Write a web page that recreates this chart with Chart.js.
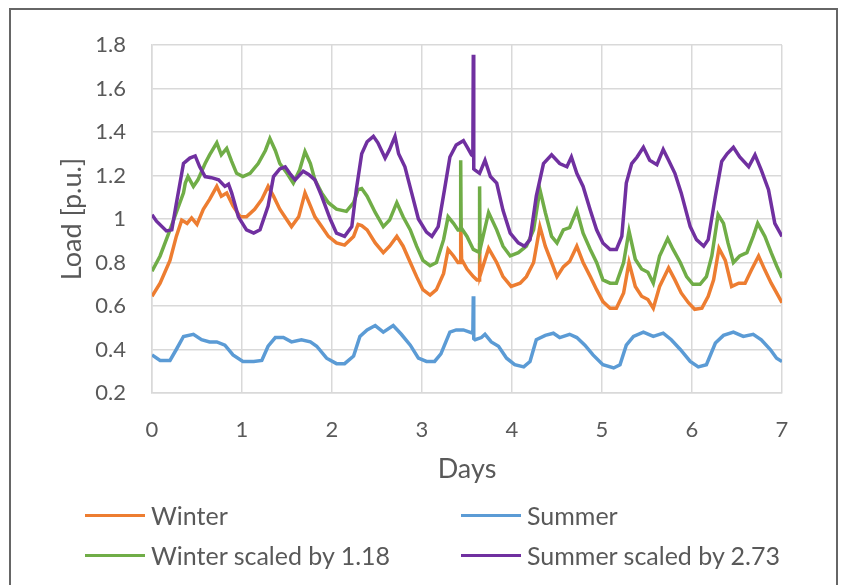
<!DOCTYPE html>
<html>
<head>
<meta charset="utf-8">
<script src="https://cdn.jsdelivr.net/npm/chart.js@4/dist/chart.umd.min.js"></script>
<style>
  html, body { margin: 0; padding: 0; background: #fff; overflow: hidden; }
  #wrap { position: relative; width: 845px; height: 585px; }
  #frame { position: absolute; left: 9px; top: 8px; width: 829px; height: 620px;
           border: 2px solid #666; border-bottom: none; box-sizing: border-box; pointer-events: none; }
  canvas { position: absolute; left: 0; top: 0; }
  .leg { position: absolute; display: flex; align-items: center; height: 30px;
         font-family: Lato, "Open Sans", sans-serif; font-size: 25px; color: #595959; white-space: nowrap; }
  .leg span.ln { display: inline-block; width: 60px; height: 3px; margin-right: 6px; }
</style>
</head>
<body>
<div id="wrap">
  <canvas id="c" width="845" height="585"></canvas>
  <div id="frame"></div>
  <div id="legend"></div>
</div>
<script>
// ---- data ----
const seriesLabels = ['Winter', 'Summer', 'Winter scaled by 1.18', 'Summer scaled by 2.73'];
const seriesColors = ['#ED7D31', '#5B9BD5', '#70AD47', '#7030A0'];

const winterX = [0,0.09,0.2,0.27,0.33,0.39,0.44,0.5,0.57,0.64,0.72,0.77,0.83,0.9,0.98,1.05,1.14,1.22,1.29,1.35,1.42,1.5,1.55,1.63,1.7,1.76,1.81,1.885,1.96,2.05,2.14,2.24,2.29,2.33,2.39,2.48,2.57,2.64,2.72,2.79,2.87,2.94,3.01,3.09,3.16,3.24,3.29,3.35,3.4,3.425,3.43,3.44,3.5,3.57,3.61,3.635,3.64,3.645,3.74,3.83,3.9,3.99,4.09,4.16,4.24,4.31,4.37,4.44,4.5,4.57,4.64,4.72,4.79,4.87,4.94,5.01,5.09,5.16,5.24,5.3,5.37,5.44,5.51,5.57,5.64,5.74,5.81,5.88,5.96,6.03,6.11,6.18,6.24,6.3,6.37,6.44,6.52,6.59,6.66,6.74,6.81,6.88,6.94,7];
const winterY = [0.645,0.705,0.81,0.92,0.995,0.98,1.005,0.975,1.045,1.09,1.15,1.105,1.12,1.06,1.01,1.01,1.045,1.09,1.15,1.105,1.045,0.995,0.965,1.01,1.12,1.06,1.01,0.965,0.92,0.89,0.88,0.92,0.975,0.97,0.95,0.89,0.845,0.875,0.92,0.875,0.8,0.735,0.675,0.65,0.675,0.75,0.86,0.83,0.8,0.8,1.0,0.815,0.77,0.735,0.72,0.72,0.89,0.74,0.865,0.8,0.735,0.69,0.705,0.735,0.8,0.965,0.875,0.8,0.735,0.78,0.805,0.875,0.8,0.735,0.675,0.62,0.59,0.59,0.66,0.8,0.69,0.645,0.63,0.59,0.69,0.775,0.72,0.66,0.615,0.585,0.59,0.645,0.72,0.865,0.81,0.69,0.705,0.705,0.765,0.83,0.765,0.705,0.66,0.615];

const summerX = [0,0.09,0.2,0.27,0.35,0.46,0.55,0.64,0.72,0.81,0.9,1.01,1.13,1.22,1.29,1.37,1.46,1.55,1.66,1.76,1.83,1.94,2.05,2.14,2.24,2.31,2.39,2.48,2.57,2.68,2.77,2.87,2.96,3.05,3.14,3.21,3.31,3.38,3.46,3.53,3.565,3.57,3.575,3.59,3.66,3.7,3.77,3.85,3.94,4.03,4.13,4.2,4.27,4.37,4.46,4.53,4.64,4.72,4.81,4.9,5.01,5.13,5.2,5.27,5.35,5.46,5.57,5.68,5.77,5.87,5.98,6.07,6.16,6.26,6.35,6.46,6.57,6.68,6.77,6.87,6.94,7];
const summerY = [0.375,0.35,0.35,0.4,0.46,0.47,0.445,0.435,0.435,0.42,0.375,0.345,0.345,0.35,0.415,0.455,0.455,0.435,0.445,0.435,0.415,0.36,0.335,0.335,0.37,0.46,0.49,0.51,0.48,0.51,0.47,0.42,0.36,0.345,0.345,0.38,0.48,0.49,0.49,0.48,0.475,0.645,0.45,0.445,0.455,0.47,0.435,0.415,0.36,0.33,0.32,0.345,0.445,0.465,0.475,0.455,0.47,0.455,0.42,0.375,0.33,0.315,0.33,0.42,0.46,0.48,0.46,0.475,0.445,0.4,0.345,0.32,0.33,0.43,0.465,0.48,0.46,0.47,0.445,0.4,0.36,0.345];

const winterScaledX = [0,0.09,0.2,0.27,0.35,0.37,0.4,0.46,0.51,0.59,0.64,0.72,0.77,0.83,0.885,0.94,1.01,1.09,1.18,1.26,1.31,1.37,1.42,1.5,1.57,1.64,1.7,1.76,1.81,1.885,1.96,2.05,2.16,2.24,2.29,2.33,2.39,2.48,2.57,2.64,2.72,2.79,2.87,2.94,3.01,3.09,3.16,3.24,3.29,3.35,3.4,3.425,3.43,3.435,3.5,3.57,3.62,3.635,3.64,3.645,3.74,3.83,3.9,3.98,4.07,4.16,4.24,4.31,4.37,4.44,4.5,4.57,4.64,4.72,4.79,4.87,4.94,5.01,5.09,5.16,5.24,5.3,5.37,5.44,5.51,5.57,5.64,5.73,5.79,5.87,5.94,6.01,6.09,6.16,6.22,6.29,6.35,6.4,6.46,6.53,6.61,6.68,6.73,6.81,6.88,6.94,7];
const winterScaledY = [0.76,0.83,0.95,1.03,1.12,1.165,1.195,1.15,1.18,1.255,1.295,1.35,1.295,1.325,1.265,1.21,1.195,1.21,1.255,1.315,1.37,1.315,1.255,1.21,1.165,1.225,1.31,1.255,1.18,1.12,1.075,1.045,1.035,1.075,1.135,1.14,1.105,1.03,0.965,0.995,1.075,1.01,0.95,0.875,0.81,0.785,0.8,0.905,1.01,0.98,0.95,0.95,1.27,0.96,0.92,0.86,0.85,0.85,1.15,0.86,1.03,0.95,0.875,0.83,0.845,0.875,0.95,1.135,1.03,0.92,0.89,0.95,0.96,1.04,0.935,0.86,0.8,0.72,0.705,0.705,0.8,0.945,0.815,0.77,0.755,0.705,0.83,0.91,0.86,0.8,0.735,0.7,0.7,0.735,0.83,1.02,0.98,0.89,0.8,0.83,0.845,0.92,0.98,0.92,0.845,0.785,0.73];

const summerScaledX = [0,0.05,0.16,0.22,0.27,0.35,0.42,0.48,0.53,0.59,0.66,0.74,0.81,0.85,0.885,0.96,1.05,1.13,1.2,1.29,1.35,1.42,1.48,1.53,1.59,1.68,1.74,1.81,1.885,1.98,2.05,2.14,2.22,2.27,2.33,2.39,2.46,2.51,2.59,2.64,2.7,2.74,2.81,2.885,2.96,3.05,3.11,3.18,3.25,3.31,3.38,3.46,3.51,3.55,3.565,3.57,3.575,3.59,3.64,3.7,3.76,3.83,3.9,3.98,4.07,4.14,4.2,4.27,4.35,4.44,4.53,4.61,4.66,4.72,4.79,4.87,4.94,5.01,5.09,5.16,5.22,5.27,5.33,5.39,5.46,5.53,5.61,5.68,5.74,5.81,5.88,5.98,6.05,6.13,6.18,6.26,6.33,6.39,6.46,6.53,6.63,6.7,6.77,6.85,6.92,7];
const summerScaledY = [1.02,0.99,0.945,0.95,1.07,1.255,1.28,1.29,1.24,1.195,1.19,1.18,1.15,1.16,1.12,1.01,0.95,0.935,0.95,1.06,1.195,1.23,1.24,1.21,1.18,1.22,1.205,1.18,1.105,1.0,0.935,0.92,0.965,1.135,1.3,1.355,1.38,1.35,1.28,1.32,1.38,1.3,1.24,1.12,1.0,0.94,0.92,0.965,1.135,1.285,1.34,1.36,1.325,1.295,1.29,1.755,1.23,1.225,1.21,1.27,1.195,1.165,1.04,0.935,0.89,0.875,0.905,1.105,1.255,1.295,1.255,1.24,1.285,1.21,1.15,1.04,0.95,0.89,0.86,0.86,0.92,1.165,1.255,1.285,1.33,1.27,1.25,1.32,1.27,1.21,1.12,0.965,0.905,0.875,0.905,1.105,1.265,1.3,1.33,1.285,1.24,1.295,1.225,1.135,0.98,0.92];

const xTickLabels = ['0','1','2','3','4','5','6','7'];
const yTickLabels = ['0.2','0.4','0.6','0.8','1','1.2','1.4','1.6','1.8'];
const xTitle = 'Days';
const yTitle = 'Load [p.u.]';

// ---- build ----
function pts(xs, ys) { return xs.map((x, i) => ({ x: x, y: ys[i] })); }
const seriesXs = [winterX, summerX, winterScaledX, summerScaledX];
const seriesYs = [winterY, summerY, winterScaledY, summerScaledY];

function build() {
  const fam = 'Lato, "Open Sans", sans-serif';
  const tickFont = { family: fam, size: 22 };
  const titleFont = { family: fam, size: 27 };
  Chart.defaults.color = '#595959';
  const datasets = seriesLabels.map((lab, i) => ({
    label: lab,
    data: pts(seriesXs[i], seriesYs[i]),
    borderColor: seriesColors[i],
    backgroundColor: seriesColors[i],
    borderWidth: 3.5,
    pointRadius: 0,
    tension: 0,
    fill: false,
    order: 4 - i
  }));
  const chart = new Chart(document.getElementById('c'), {
    type: 'line',
    data: { datasets: datasets },
    options: {
      responsive: false,
      animation: false,
      layout: { padding: { left: 50, right: 63, top: 45, bottom: 92 } },
      plugins: { legend: { display: false }, tooltip: { enabled: false } },
      scales: {
        x: {
          type: 'linear', min: 0, max: 7,
          afterFit: s => { s.height = 100; },
          ticks: { stepSize: 1, padding: 24, font: tickFont, color: '#595959',
                   callback: (v, i) => xTickLabels[i] },
          grid: { color: '#d9d9d9', lineWidth: 1.5, drawTicks: false },
          border: { display: true, color: '#d9d9d9', width: 1.5 },
          title: { display: true, text: xTitle, font: titleFont, color: '#595959',
                   padding: { top: 0, bottom: 8 } }
        },
        y: {
          type: 'linear', min: 0.2, max: 1.8,
          afterFit: s => { s.width = 102; },
          ticks: { stepSize: 0.2, padding: 26, font: tickFont, color: '#595959',
                   callback: (v, i) => yTickLabels[i] },
          grid: { color: '#d9d9d9', lineWidth: 1.5, drawTicks: false },
          border: { display: true, color: '#d9d9d9', width: 1.5 },
          title: { display: true, text: yTitle, font: titleFont, color: '#595959',
                   padding: { top: 6, bottom: 0 } }
        }
      }
    }
  });

  // legend (two aligned columns, as in the reference)
  const legPos = [[85, 500], [461, 500], [85, 540], [461, 540]];
  const leg = document.getElementById('legend');
  chart.data.datasets.forEach((ds, i) => {
    const d = document.createElement('div');
    d.className = 'leg';
    d.style.left = legPos[i][0] + 'px';
    d.style.top = legPos[i][1] + 'px';
    const ln = document.createElement('span');
    ln.className = 'ln';
    ln.style.background = ds.borderColor;
    const tx = document.createElement('span');
    tx.textContent = ds.label;
    d.appendChild(ln); d.appendChild(tx);
    leg.appendChild(d);
  });
}
if (document.fonts && document.fonts.load) {
  document.fonts.load('22px Lato').then(build, build);
} else { build(); }
</script>
</body>
</html>
